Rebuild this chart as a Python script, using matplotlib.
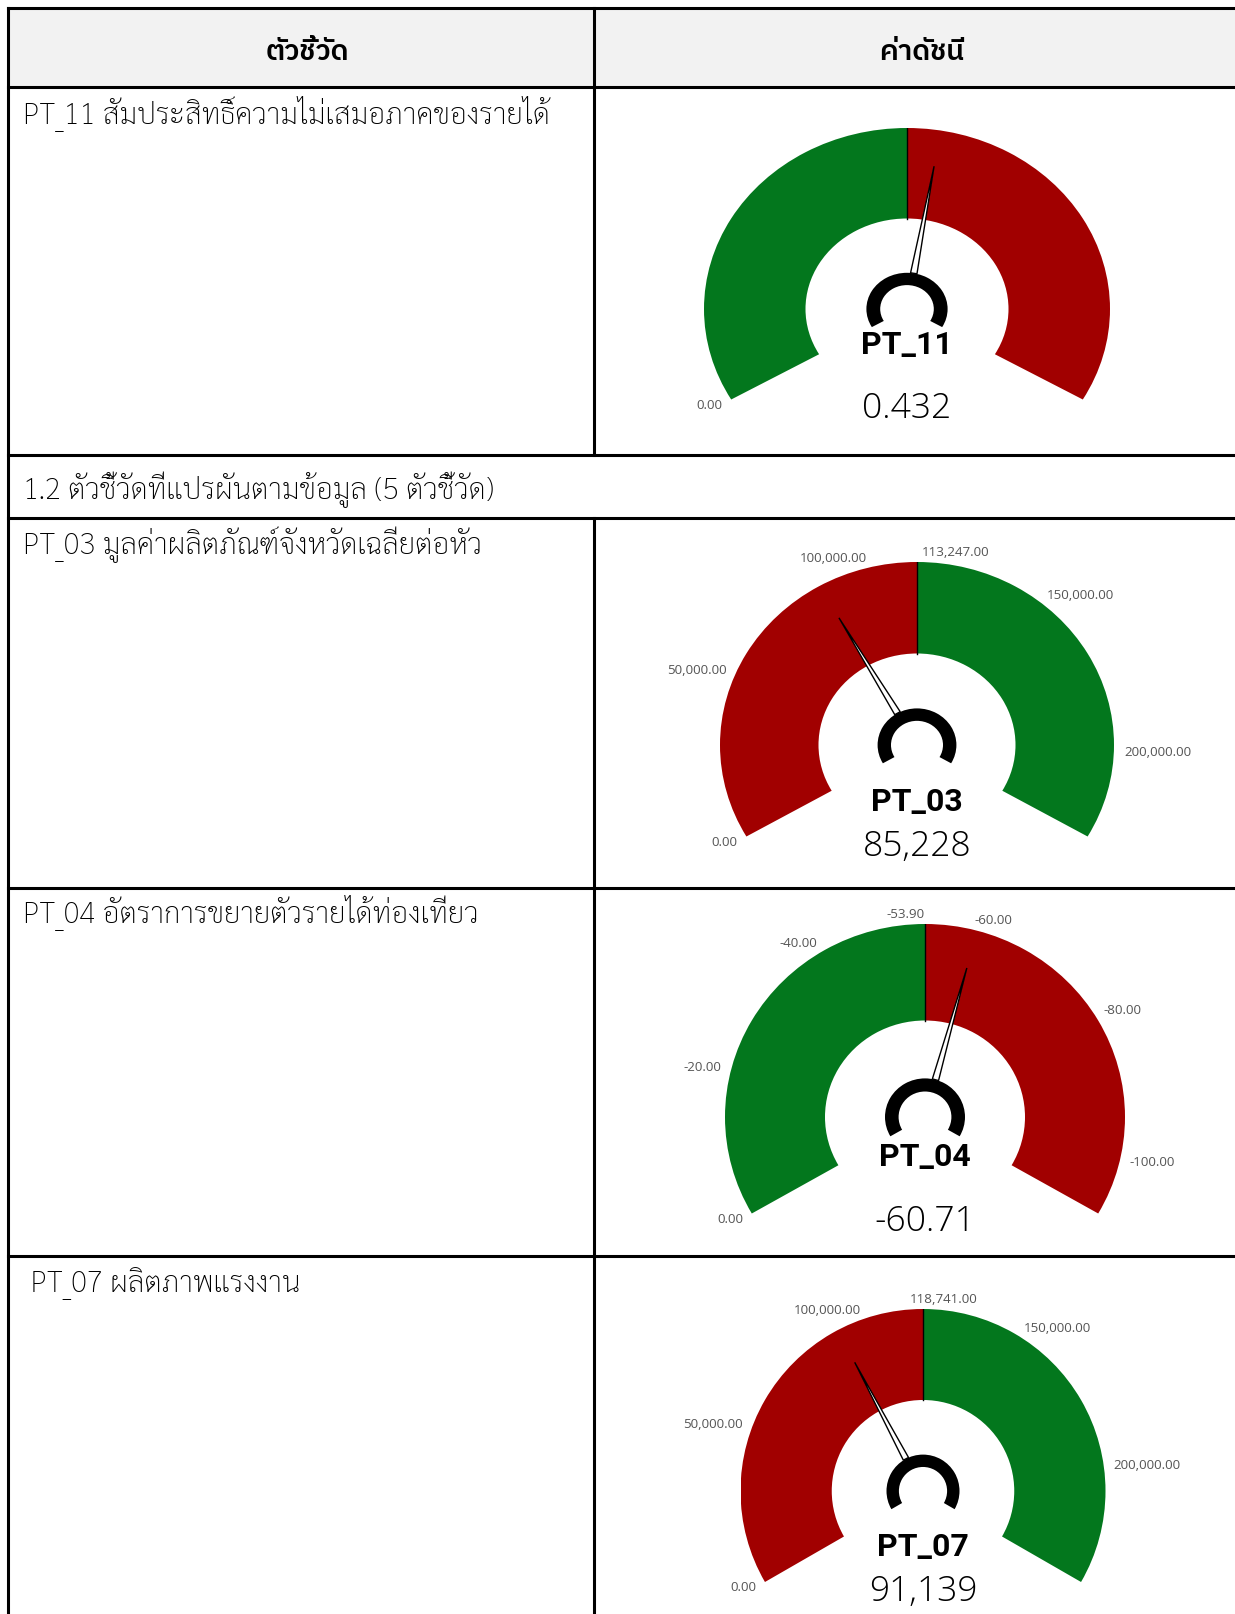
import numpy as np
import matplotlib
matplotlib.use("Agg")
import matplotlib.pyplot as plt
from matplotlib.patches import Wedge, Polygon, Rectangle

# ---- data ----
header = ["ตัวชี้วัด", "ค่าดัชนี"]
section_title = "1.2 ตัวชี้วัดที่แปรผันตามข้อมูล (5 ตัวชี้วัด)"
codes = ["PT_11", "PT_03", "PT_04", "PT_07"]
row_titles = [
    "PT_11 สัมประสิทธิ์ความไม่เสมอภาคของรายได้",
    "PT_03 มูลค่าผลิตภัณฑ์จังหวัดเฉลี่ยต่อหัว",
    "PT_04 อัตราการขยายตัวรายได้ท่องเที่ยว",
    " PT_07 ผลิตภาพแรงงาน",
]
values = [0.432, 85228, -60.71, 91139]
value_labels = ["0.432", "85,228", "-60.71", "91,139"]
gauge_min = [0.0, 0.0, 0.0, 0.0]
gauge_max = [0.80, 226494.0, -107.80, 237482.0]
targets = [0.40, 113247.0, -53.90, 118741.0]
show_target = [False, True, True, True]
ticks = [
    [0.0],
    [0, 50000, 100000, 150000, 200000],
    [0, -20, -40, -60, -80, -100],
    [0, 50000, 100000, 150000, 200000],
]
GREEN = "#03771d"
RED = "#a10000"
first_colors = [GREEN, RED, GREEN, RED]
second_colors = [RED, GREEN, RED, GREEN]

# ---- layout (pixels of the 1235x1615 picture) ----
W, H = 1235, 1615
centers = [(907, 310), (917, 746), (925, 1118), (923, 1492)]
radii = [(203, 181), (197, 183), (200, 193), (182.5, 182)]
code_y = [345, 802, 1157, 1547]
value_y = [409, 847, 1222, 1592]
target_ha = ["left", "left", "right", "left"]
target_dx = [0, 5, 0, -13]

thai_font = ["Sarabun", "IBM Plex Sans Thai Looped", "DejaVu Sans"]
head_font = ["IBM Plex Sans Thai", "DejaVu Sans"]
num_font = ["Open Sans", "DejaVu Sans"]
code_font = ["Roboto", "DejaVu Sans"]

fig = plt.figure(figsize=(W / 100, H / 100), dpi=100)
bg = fig.add_axes([0, 0, 1, 1])
bg.set_xlim(0, W)
bg.set_ylim(H, 0)
bg.axis("off")

# table
x0, xdiv = 8, 594
y_top, y_head = 9, 88
row_lines = [455.7, 519, 889, 1257]
lw = 2.2
bg.add_patch(Rectangle((x0, y_top), W - x0, y_head - y_top, facecolor="#f2f2f2", edgecolor="none"))
for y in [y_top, y_head] + row_lines:
    bg.plot([x0, W], [y, y], color="black", lw=lw, solid_capstyle="projecting")
bg.plot([x0, x0], [y_top, H], color="black", lw=lw)
bg.plot([xdiv, xdiv], [y_top, row_lines[0]], color="black", lw=lw)
bg.plot([xdiv, xdiv], [row_lines[1], H], color="black", lw=lw)

bg.text(307, 60, header[0], ha="center", va="baseline", fontsize=20.5,
        family=head_font, weight="semibold")
bg.text(922, 60, header[1], ha="center", va="baseline", fontsize=20.5,
        family=head_font, weight="semibold")

title_base = [124, 554, 923, 1292]
for t, yb in zip(row_titles, title_base):
    bg.text(23, yb, t, ha="left", va="baseline", fontsize=21.3, family=thai_font, weight="light")
bg.text(23, 499, section_title, ha="left", va="baseline", fontsize=21.3, family=thai_font,
        weight="light")


def angle_of(v, lo, hi):
    return 210.0 - 240.0 * (v - lo) / (hi - lo)


for i in range(len(codes)):
    cx, cy = centers[i]
    rx, ry = radii[i]
    ax = fig.add_axes([(cx - rx) / W, 1 - (cy + ry) / H, 2 * rx / W, 2 * ry / H])
    ax.set_xlim(-1, 1)
    ax.set_ylim(-1, 1)
    ax.axis("off")
    lo, hi = gauge_min[i], gauge_max[i]
    a_t = angle_of(targets[i], lo, hi)
    ax.add_patch(Wedge((0, 0), 1, a_t, 210, width=0.5, facecolor=first_colors[i], edgecolor="none"))
    ax.add_patch(Wedge((0, 0), 1, -30, a_t, width=0.5, facecolor=second_colors[i], edgecolor="none"))
    rt = np.radians(a_t)
    ax.plot([0.5 * np.cos(rt), np.cos(rt)], [0.5 * np.sin(rt), np.sin(rt)], color="black", lw=1)

    # hub
    ax.add_patch(Wedge((0, 0), 0.2, -30, 210, width=0.068, facecolor="black", edgecolor="none"))

    # needle
    a_v = np.radians(angle_of(values[i], lo, hi))
    d = np.array([np.cos(a_v), np.sin(a_v)])
    p = np.array([-d[1], d[0]])
    base = 0.2 * d
    tip = 0.8 * d
    ax.add_patch(Polygon([base + 0.016 * p, tip, base - 0.016 * p], closed=True,
                         facecolor="white", edgecolor="black", lw=1.0))

    # tick labels
    for tv in ticks[i]:
        a = np.radians(angle_of(tv, lo, hi))
        c, s = np.cos(a), np.sin(a)
        ax.annotate(f"{tv:,.2f}", (c, s), xytext=(7.2 * c, 7.2 * s), textcoords="offset points",
                    ha="right" if c < -1e-6 else "left", va="center", fontsize=9.6,
                    family=num_font, color="#555555", annotation_clip=False)
    if show_target[i]:
        ax.annotate(f"{targets[i]:,.2f}", (np.cos(rt), np.sin(rt)),
                    xytext=(target_dx[i] * 0.72, 7.2), textcoords="offset points",
                    ha=target_ha[i], va="center", fontsize=9.6,
                    family=num_font, color="#555555", annotation_clip=False)

    ax.text(0, (cy - code_y[i]) / ry, codes[i], ha="center", va="center", fontsize=23,
            family=code_font, weight="bold", color="black")
    ax.text(0, (cy - value_y[i]) / ry, value_labels[i], ha="center", va="center", fontsize=25.5,
            family=num_font, weight="light", color="black")

fig.savefig("out.png", dpi=100)
